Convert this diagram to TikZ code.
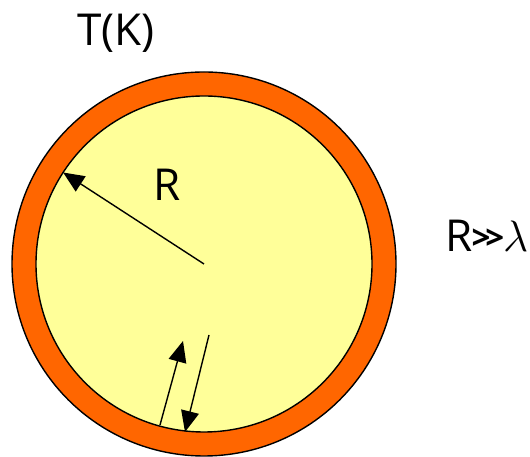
\RequirePackage{fix-cm}
\documentclass[tikz,border=0pt]{standalone}
\usepackage{fontspec}
\setmainfont{Open Sans}
\usetikzlibrary{arrows.meta, calc}
\definecolor{shellorange}{HTML}{FF6600}
\definecolor{coreyellow}{HTML}{FFFF99}
\begin{document}
\begin{tikzpicture}[x=1pt, y=1pt, line width=1.4pt,
    >={Triangle[length=21pt, width=18pt]},
    every node/.style={font=\fontsize{44}{48}\selectfont, inner sep=0pt}]
	\useasboundingbox (0,0) rectangle (530,457);
	% 1. 外壳与内部区域
	\coordinate (ctr) at (204,193);
	\fill[shellorange, draw=black] (ctr) circle (192);
	\fill[coreyellow, draw=black] (ctr) circle (168);
	
	% 2. 半径箭头
	\coordinate (rim) at ($(ctr)+(147:168)$);
	\draw[->] (ctr) -- (rim);
	\node (rlabel) at (167,272) {R};
	
	% 3. 壁面附近的往返箭头
	\coordinate (upstart) at (160,32);
	\coordinate (upend) at (183,116);
	\coordinate (downstart) at (209,122);
	\coordinate (downend) at (185,25);
	\draw[->] (upstart) -- (upend);
	\draw[->] (downstart) -- (downend);
	
	% 4. 文字标注
	\node[anchor=base east] (cond) at (529,205)
	  {R\kern-1pt\raisebox{2pt}{\fontsize{33}{33}\selectfont\bfseries{>}\kern-5pt{>}}\kern-1pt$\lambda$};
	\node (temp) at (116,424) {T(K)};
\end{tikzpicture}
\end{document}
